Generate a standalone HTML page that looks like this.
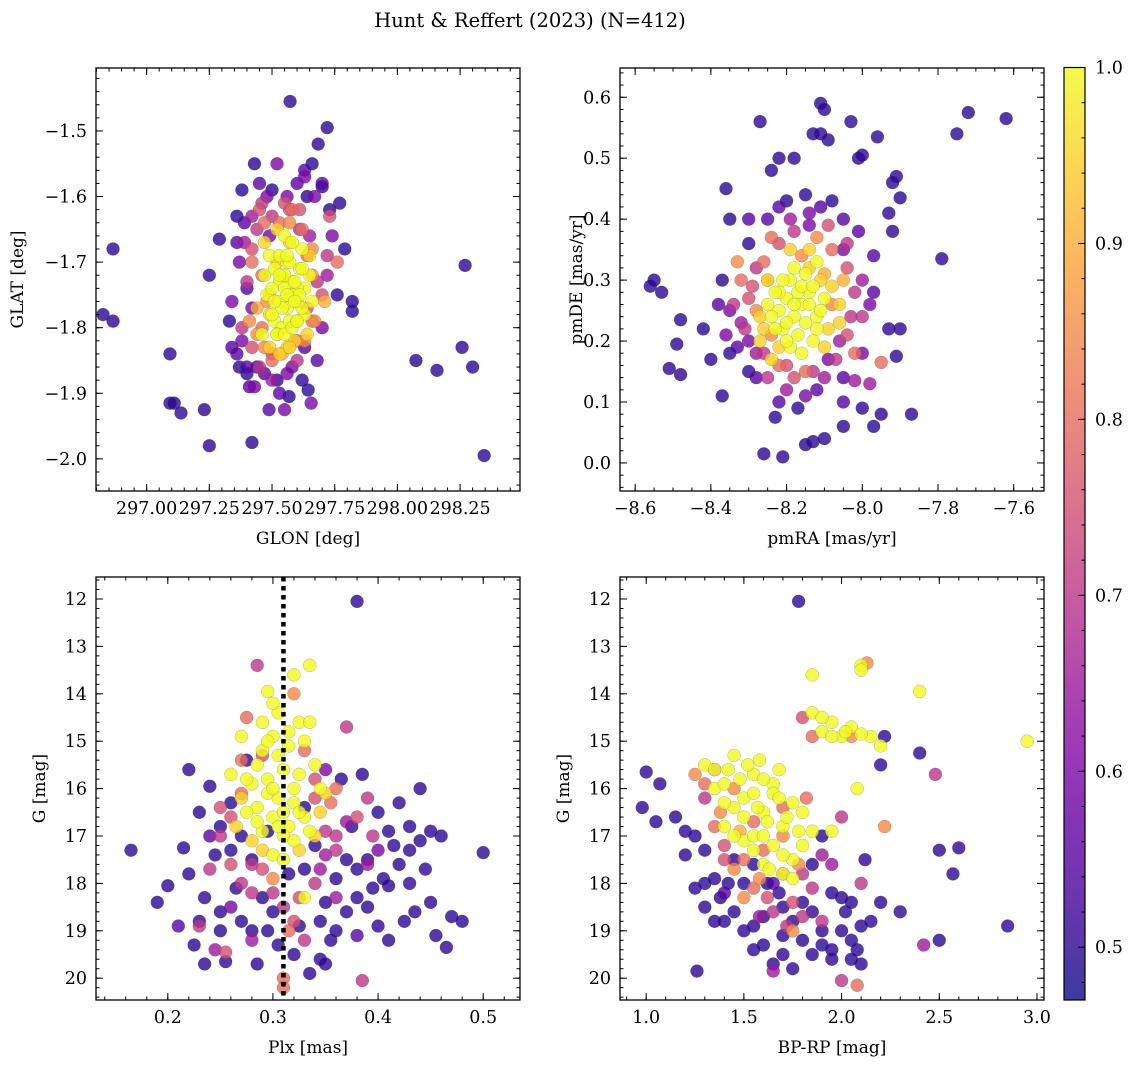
<!DOCTYPE html>
<html><head><meta charset="utf-8">
<style>
html,body{margin:0;padding:0;background:#fff;}
svg{display:block;font-family:"DejaVu Serif","Liberation Serif",serif;}
</style></head>
<body>
<svg id="fig" width="1136" height="1067" viewBox="0 0 1136 1067" xmlns="http://www.w3.org/2000/svg">
<defs>
<linearGradient id="plasma" x1="0" y1="1" x2="0" y2="0">
<stop offset="0" stop-color="#0d0887"/><stop offset="0.1" stop-color="#41049d"/><stop offset="0.2" stop-color="#6a00a8"/><stop offset="0.3" stop-color="#8f0da4"/><stop offset="0.4" stop-color="#b12a90"/><stop offset="0.5" stop-color="#cc4778"/><stop offset="0.6" stop-color="#e16462"/><stop offset="0.7" stop-color="#f2844b"/><stop offset="0.8" stop-color="#fca636"/><stop offset="0.9" stop-color="#fcce25"/><stop offset="1" stop-color="#f0f921"/>
</linearGradient>
</defs>
<text x="530" y="27" font-size="19.5" text-anchor="middle">Hunt &amp; Reffert (2023) (N=412)</text>
</svg>
<script>
// ---- data (x, y, membership probability) ----
const p1Glon=[296.826,296.866,296.866,297.093,297.093,297.11,297.137,297.23,297.25,298.074,298.158,298.258,298.27,298.30,298.346,297.572,297.72,297.684,297.42,297.488,297.55,297.568,297.644,297.656,297.82,297.82,297.76,297.79,297.77,297.70,297.25,297.29,297.43,297.38,297.36,297.64,297.33,297.34,297.36,297.40,297.44,297.38,297.45,297.50,297.53,297.57,297.60,297.63,297.66,297.70,297.73,297.74,297.76,297.72,297.70,297.67,297.63,297.58,297.52,297.47,297.43,297.40,297.42,297.40,297.37,297.39,297.42,297.46,297.48,297.46,297.47,297.50,297.54,297.60,297.66,297.68,297.66,297.62,297.49,297.50,297.56,297.50,297.71,297.73,
297.52,297.54,297.56,297.58,297.61,297.63,297.60,297.56,297.53,297.51,297.54,297.57,297.60,297.63,297.65,297.62,297.57,297.53,297.49,297.59,297.56,297.64,297.66,297.49,297.60,297.58,297.62,297.55,297.65,297.52];
const p1Glat=[-1.78,-1.68,-1.79,-1.84,-1.915,-1.915,-1.93,-1.925,-1.98,-1.85,-1.865,-1.83,-1.705,-1.86,-1.995,-1.455,-1.495,-1.52,-1.975,-1.925,-1.925,-1.905,-1.895,-1.915,-1.76,-1.775,-1.75,-1.68,-1.61,-1.585,-1.72,-1.665,-1.55,-1.59,-1.63,-1.6,-1.79,-1.83,-1.84,-1.87,-1.86,-1.80,-1.62,-1.63,-1.64,-1.62,-1.58,-1.57,-1.55,-1.58,-1.62,-1.66,-1.70,-1.72,-1.75,-1.79,-1.83,-1.86,-1.88,-1.87,-1.89,-1.86,-1.77,-1.74,-1.70,-1.67,-1.68,-1.72,-1.76,-1.80,-1.83,-1.85,-1.84,-1.82,-1.79,-1.73,-1.68,-1.65,-1.66,-1.59,-1.60,-1.84,-1.76,-1.63,
-1.70,-1.72,-1.70,-1.73,-1.71,-1.74,-1.76,-1.77,-1.76,-1.79,-1.80,-1.79,-1.79,-1.78,-1.72,-1.68,-1.67,-1.73,-1.75,-1.82,-1.83,-1.81,-1.76,-1.78,-1.74,-1.75,-1.77,-1.74,-1.69,-1.81];
const p1Prob=[.5,.5,.5,.5,.5,.5,.5,.5,.5,.5,.5,.5,.5,.5,.5,.5,.5,.5,.5,.55,.6,.5,.5,.6,.5,.5,.5,.5,.5,.5,.5,.5,.5,.5,.5,.5,.5,.55,.55,.5,.5,.7,.75,.7,.8,.75,.55,.6,.5,.55,.5,.6,.8,.65,.75,.85,.55,.6,.5,.55,.6,.55,.6,.55,.6,.65,.75,.8,.85,.8,.85,.8,.9,.75,.8,.7,.85,.8,.6,.5,.6,.75,.9,.75,
.95,1,1,1,1,1,1,1,1,1,1,1,1,1,1,1,.95,1,.95,.95,.95,.95,1,.95,1,1,1,1,.95,1];
const p1GlonB=[297.47,297.49,297.51,297.53,297.55,297.57,297.59,297.61,297.48,297.50,297.52,297.55,297.58,297.60,297.46,297.49,297.53,297.57,297.47,297.52,297.55,297.58,297.62,297.54,297.51,297.56,297.59,297.50,297.53,297.56,
297.42,297.44,297.46,297.55,297.58,297.61,297.64,297.66,297.64,297.63,297.60,297.56,297.50,297.45,297.42,297.41,297.40,297.42,297.44,297.44,297.39,297.36,297.34,297.38,297.37,297.41,297.53,297.62,297.68,297.70,297.72,297.67,297.63,297.52,297.48,297.45,297.57,297.47,297.61,297.65];
const p1GlatB=[-1.72,-1.69,-1.71,-1.69,-1.72,-1.70,-1.73,-1.75,-1.75,-1.78,-1.81,-1.81,-1.80,-1.79,-1.81,-1.83,-1.84,-1.83,-1.67,-1.65,-1.66,-1.67,-1.71,-1.77,-1.76,-1.75,-1.76,-1.74,-1.72,-1.69,
-1.63,-1.65,-1.61,-1.61,-1.62,-1.65,-1.69,-1.72,-1.77,-1.82,-1.85,-1.87,-1.88,-1.86,-1.83,-1.79,-1.73,-1.70,-1.77,-1.81,-1.64,-1.67,-1.76,-1.82,-1.86,-1.89,-1.90,-1.88,-1.85,-1.80,-1.69,-1.60,-1.56,-1.55,-1.60,-1.58,-1.64,-1.64,-1.62,-1.66];
const p1ProbB=[1,1,1,1,1,1,1,1,1,1,1,1,1,1,1,.95,.95,.95,.95,.95,1,1,1,1,1,1,1,1,1,1,
.65,.7,.7,.75,.8,.7,.8,.85,.75,.85,.7,.6,.65,.7,.75,.85,.7,.8,.9,.85,.55,.55,.6,.6,.5,.55,.55,.5,.55,.6,.7,.6,.55,.6,.6,.55,.85,.8,.75,.65];

const p2Pmra=[-8.56,-8.55,-8.53,-8.48,-8.49,-8.51,-8.48,-8.42,-8.40,-8.37,-8.36,-8.35,-8.27,-8.24,-8.22,-8.18,-8.13,-8.11,-8.10,-8.11,-8.09,-8.03,-8.01,-8.00,-7.96,-7.92,-7.91,-7.90,-7.93,-7.92,-7.72,-7.75,-7.62,-7.79,-7.87,-7.95,-7.97,-8.05,-8.10,-8.13,-8.15,-8.21,-8.23,-8.26,-8.17,-8.00,-7.93,-7.90,-7.91,-8.30,-8.37,-8.35,-8.30,-8.05,-8.02,-7.98,-7.95,-7.97,-8.25,-8.05,-8.08,-8.15,-8.20,
-8.30,-8.32,-8.34,-8.29,-8.26,-8.22,-8.18,-8.12,-8.08,-8.04,-8.02,-8.03,-8.06,-8.09,-8.13,-8.18,-8.22,-8.26,-8.20,-8.12,-8.14,-8.10,-8.28,-8.24,-8.08,-8.05,-7.98,-8.33,-8.02,-8.16,-8.25,
-8.22,-8.20,-8.18,-8.16,-8.14,-8.12,-8.10,-8.19,-8.15,-8.21,-8.17,-8.13,-8.24,-8.11,-8.14,-8.19,-8.22,-8.09,-8.17,-8.20,-8.26,-8.12,-8.06];
const p2Pmde=[0.29,0.30,0.28,0.235,0.195,0.155,0.145,0.22,0.17,0.11,0.45,0.40,0.56,0.48,0.50,0.50,0.54,0.59,0.58,0.54,0.53,0.56,0.50,0.505,0.535,0.46,0.47,0.435,0.41,0.38,0.575,0.54,0.565,0.335,0.08,0.08,0.06,0.06,0.04,0.035,0.03,0.01,0.075,0.015,0.09,0.09,0.22,0.22,0.175,0.36,0.30,0.18,0.15,0.10,0.135,0.13,0.165,0.34,0.40,0.40,0.43,0.44,0.43,
0.20,0.23,0.26,0.29,0.33,0.36,0.38,0.37,0.35,0.32,0.28,0.24,0.20,0.17,0.15,0.14,0.16,0.18,0.12,0.12,0.41,0.31,0.25,0.21,0.26,0.35,0.26,0.33,0.18,0.34,0.30,
0.25,0.27,0.24,0.26,0.28,0.24,0.27,0.30,0.31,0.22,0.21,0.20,0.24,0.30,0.32,0.19,0.28,0.22,0.28,0.23,0.22,0.33,0.23];
const p2Prob=[.5,.5,.5,.5,.5,.5,.5,.5,.5,.5,.5,.5,.5,.5,.5,.5,.5,.5,.5,.5,.5,.5,.5,.5,.5,.5,.5,.5,.5,.5,.5,.5,.5,.5,.5,.5,.5,.5,.5,.5,.5,.5,.5,.5,.5,.5,.5,.5,.5,.5,.5,.5,.5,.55,.65,.65,.8,.55,.55,.55,.5,.5,.5,
.6,.65,.7,.75,.8,.75,.7,.85,.8,.75,.7,.7,.65,.6,.7,.75,.8,.7,.65,.55,.6,.9,.85,.85,.85,.6,.6,.85,.8,.85,.9,
1,1,1,1,1,1,1,1,1,1,1,1,1,.95,.95,1,1,.95,1,1,.95,1,.95];
const p2PmraB=[-8.25,-8.23,-8.21,-8.18,-8.16,-8.14,-8.12,-8.15,-8.18,-8.20,-8.23,-8.27,-8.11,-8.08,-8.13,-8.16,-8.22,-8.25,-8.19,-8.14,-8.10,-8.27,-8.24,-8.06,-8.05,
-8.30,-8.31,-8.28,-8.25,-8.20,-8.15,-8.10,-8.07,-8.04,-8.00,-8.00,-8.04,-8.09,-8.14,-8.19,-8.24,-8.28,-8.32,-8.35,-8.33,-8.28,-8.22,-8.15,-8.05,-8.00,-7.97,-8.01,-8.11,-8.22,-8.30,-8.38,-8.36];
const p2PmdeB=[0.26,0.28,0.30,0.32,0.29,0.26,0.22,0.23,0.26,0.20,0.22,0.24,0.25,0.29,0.29,0.18,0.19,0.30,0.35,0.35,0.19,0.20,0.17,0.26,0.30,
0.27,0.22,0.18,0.14,0.16,0.15,0.14,0.17,0.21,0.24,0.30,0.36,0.39,0.39,0.40,0.37,0.32,0.30,0.25,0.19,0.14,0.10,0.11,0.14,0.18,0.28,0.38,0.42,0.42,0.40,0.26,0.21];
const p2ProbB=[1,1,1,1,1,1,1,1,1,1,1,.95,1,.95,1,1,.95,.95,.95,.95,.95,.95,.95,.95,.9,
.75,.7,.65,.7,.75,.8,.65,.7,.75,.7,.65,.7,.75,.6,.65,.8,.7,.8,.6,.55,.55,.55,.6,.55,.6,.55,.55,.55,.55,.55,.55,.6];

const p3Plx=[0.165,0.19,0.20,0.215,0.22,0.225,0.23,0.235,0.24,0.245,0.25,0.255,0.26,0.265,0.27,0.275,0.28,0.285,0.29,0.295,0.30,0.305,0.315,0.32,0.325,0.33,0.335,0.34,0.345,0.35,0.355,0.36,0.365,0.37,0.375,0.38,0.385,0.39,0.395,0.40,0.405,0.41,0.415,0.42,0.425,0.43,0.435,0.44,0.445,0.45,0.455,0.465,0.47,0.48,0.50,0.46,0.43,0.41,0.24,0.26,0.38,0.35,
0.23,0.245,0.255,0.25,0.26,0.27,0.275,0.28,0.285,0.29,0.31,0.315,0.32,0.33,0.34,0.35,0.36,0.37,0.38,0.39,0.385,0.345,0.325,0.30,0.27,0.36,0.31,0.395,
0.26,0.27,0.28,0.285,0.29,0.295,0.30,0.305,0.31,0.315,0.32,0.325,0.33,0.335,0.34,0.345,0.35,0.29,0.28,0.30,0.31,0.32,0.33,0.295,0.305,0.315,0.275,0.325,0.30,0.29,0.265,0.34];
const p3G=[17.3,18.4,18.05,17.25,15.6,19.3,18.8,19.7,15.95,17.4,18.6,19.65,16.3,18.1,17.0,15.4,19.0,19.7,18.3,16.9,18.6,19.3,17.8,19.5,18.9,16.4,19.9,17.2,19.6,18.4,19.2,17.9,15.8,18.6,16.8,12.05,15.7,17.5,18.1,18.9,17.9,19.2,17.2,16.3,18.8,17.3,18.6,16.0,17.7,16.9,19.1,19.35,18.7,18.8,17.35,17.0,18.0,18.05,17.0,18.5,19.1,15.6,
18.9,19.4,19.45,17.0,16.6,16.1,14.5,17.6,13.4,15.3,20.0,19.0,14.0,15.2,16.2,16.9,17.3,14.7,16.6,16.2,20.05,17.7,18.3,17.9,18.0,16.0,20.2,17.0,
15.7,14.9,15.9,16.4,14.6,13.95,14.9,16.2,15.6,16.8,16.0,14.6,16.6,13.4,15.5,16.5,16.1,16.9,17.1,16.6,17.0,13.6,18.3,15.8,14.4,15.1,16.5,17.3,17.4,15.2,16.8,17.0];
const p3Prob=[.5,.5,.5,.5,.5,.5,.5,.5,.5,.5,.5,.5,.5,.5,.5,.5,.5,.5,.5,.5,.5,.5,.5,.5,.5,.5,.5,.5,.5,.5,.5,.5,.5,.5,.5,.5,.5,.5,.5,.5,.5,.5,.5,.5,.5,.5,.5,.5,.5,.5,.5,.5,.5,.5,.5,.5,.5,.5,.55,.6,.55,.6,
.7,.65,.75,.7,.75,.8,.8,.7,.7,.75,.8,.8,.85,.8,.75,.7,.7,.7,.75,.7,.7,.65,.75,.85,.7,.8,.8,.7,
1,1,1,1,1,1,1,1,1,1,1,1,1,1,1,.95,.95,1,.95,1,1,1,1,1,1,1,1,.95,1,1,.95,.95];
const p3PlxB=[0.285,0.295,0.305,0.31,0.32,0.325,0.33,0.335,0.30,0.315,0.295,0.285,0.30,0.32,0.345,0.275,0.27,0.31,0.29,0.335,0.305,0.325,
0.26,0.28,0.29,0.30,0.31,0.32,0.34,0.35,0.36,0.37,0.355,0.25,0.24,0.28,0.33,0.39,0.40,0.27,0.34,0.36,
0.22,0.23,0.235,0.25,0.26,0.27,0.28,0.295,0.33,0.345,0.36,0.37,0.38,0.39,0.40,0.42,0.44,0.45,0.38,0.35,0.25,0.21,0.43,0.41];
const p3GB=[15.5,16.1,15.3,16.5,16.3,15.7,15.0,16.9,14.2,14.8,15.0,16.7,16.0,17.1,16.0,15.8,16.2,17.5,17.3,14.6,16.8,16.5,
17.6,18.2,17.7,18.2,18.5,18.8,18.0,17.4,17.0,16.7,16.3,16.4,17.7,19.2,19.2,17.6,17.3,15.4,15.8,18.3,
17.8,16.5,18.3,16.8,17.3,18.8,17.5,19.0,17.7,18.8,19.0,17.5,17.7,18.5,16.5,17.6,17.1,18.4,18.3,19.7,19.0,18.9,16.8,16.9];
const p3ProbB=[1,1,1,1,1,1,1,1,1,1,1,1,1,1,1,1,.95,1,.95,1,1,1,
.75,.7,.75,.7,.7,.75,.7,.65,.7,.65,.8,.75,.7,.65,.7,.65,.6,.8,.75,.65,
.5,.5,.5,.5,.5,.5,.5,.5,.5,.5,.5,.5,.5,.5,.5,.5,.5,.5,.5,.5,.5,.55,.5,.5];
const plxRef=0.31;

const p4Bprp=[0.98,1.0,1.05,1.07,1.15,1.2,1.25,1.26,1.3,1.35,1.38,1.4,1.45,1.5,1.55,1.6,1.65,1.68,1.7,1.75,1.78,1.8,1.85,1.9,1.95,2.0,2.02,2.05,2.08,2.1,2.12,2.15,2.2,2.22,2.3,2.4,2.5,2.5,2.57,2.6,2.85,1.95,1.85,1.55,1.42,1.62,1.9,2.05,1.75,1.3,
1.8,2.42,2.48,1.3,1.35,1.4,1.5,1.6,1.7,1.75,1.8,1.95,2.0,2.1,2.22,1.65,2.08,1.55,1.45,1.85,2.13,2.05,1.58,1.9,2.0,1.7,
1.3,1.35,1.4,1.45,1.5,1.55,1.6,1.65,1.7,1.75,1.5,1.6,1.8,1.7,1.4,1.85,1.9,1.95,2.0,2.05,2.1,2.1,2.15,2.2,2.4,2.95,2.08,1.95,1.85,1.55,1.75,1.65,1.45];
const p4G=[16.4,15.65,16.7,15.9,16.6,17.4,18.1,19.85,18.5,17.9,18.3,18.8,17.5,19.0,19.4,18.7,19.7,18.2,19.1,19.8,12.05,18.4,19.5,19.3,19.6,19.0,18.6,19.2,19.4,18.9,17.5,18.8,15.5,14.9,18.6,15.25,19.2,17.3,17.8,17.25,18.9,18.2,17.6,17.6,18.0,18.0,17.0,18.4,18.8,17.3,
14.5,19.3,15.7,16.2,15.6,17.2,18.3,17.3,17.8,19.0,18.7,17.6,16.6,18.0,16.8,19.85,20.15,16.7,16.0,14.9,13.35,14.9,17.9,18.8,20.05,16.4,
15.5,16.0,15.9,15.3,16.2,15.7,16.5,15.9,16.8,16.3,17.1,17.6,17.2,17.8,16.8,13.6,14.8,14.6,14.9,14.7,13.4,13.5,14.9,15.1,13.95,15.0,16.0,16.9,14.4,17.3,17.5,16.1,16.4];
const p4Prob=[.5,.5,.5,.5,.5,.5,.5,.5,.5,.5,.5,.5,.5,.5,.5,.5,.5,.5,.5,.5,.5,.5,.5,.5,.5,.5,.5,.5,.5,.5,.5,.5,.5,.5,.5,.5,.5,.5,.5,.5,.5,.5,.5,.5,.5,.5,.5,.5,.5,.5,
.75,.65,.7,.7,.8,.75,.85,.8,.8,.85,.7,.65,.7,.7,.85,.65,.8,.8,.85,.8,.85,.85,.85,.7,.7,.8,
1,1,1,1,1,1,1,1,1,1,1,1,1,1,1,1,1,1,1,1,1,1,1,1,1,1,1,1,1,1,1,1,1];
const p4BprpB=[1.35,1.42,1.48,1.55,1.6,1.62,1.68,1.72,1.78,1.5,1.45,1.55,1.65,1.7,1.75,1.6,1.4,1.52,1.58,1.68,1.8,1.85,1.95,2.02,2.1,1.9,1.63,1.57,
1.3,1.35,1.4,1.45,1.5,1.55,1.62,1.7,1.75,1.8,1.85,1.38,1.48,1.65,1.72,1.58,1.9,1.82,1.78,1.25,
1.2,1.25,1.3,1.35,1.45,1.5,1.55,1.6,1.7,1.8,1.85,1.9,2.0,2.05,1.95,1.7,1.65,1.4,2.1,2.2];
const p4GB=[15.6,15.6,15.8,16.1,15.8,16.7,16.2,16.6,16.9,16.6,17.0,17.0,17.2,17.4,17.9,17.0,16.3,15.5,15.4,15.6,16.5,16.9,14.9,14.8,14.85,14.5,17.7,16.4,
15.9,16.8,17.5,17.7,17.5,18.1,18.3,17.0,18.4,17.8,18.1,16.5,16.9,18.6,18.9,18.7,17.4,16.2,17.6,15.7,
16.9,17.0,18.0,18.8,18.6,18.0,18.9,19.3,18.5,19.2,18.6,19.0,18.3,19.6,19.4,19.5,18.0,18.2,19.7,18.4];
const p4ProbB=[1,1,1,1,1,1,1,1,1,1,1,1,1,1,1,1,1,1,1,1,1,1,1,1,1,1,1,1,
.8,.8,.75,.85,.8,.8,.75,.85,.75,.7,.7,.85,.9,.7,.7,.65,.65,.8,.85,.85,
.5,.5,.5,.5,.5,.5,.5,.5,.5,.5,.5,.5,.5,.5,.5,.5,.55,.55,.5,.5];

const cbTicks=[0.5,0.6,0.7,0.8,0.9,1.0];

// ---- rendering ----
const NS="http://www.w3.org/2000/svg";
const svg=document.getElementById('fig');
function mk(tag,attrs,parent){const e=document.createElementNS(NS,tag);for(const k in attrs)e.setAttribute(k,attrs[k]);(parent||svg).appendChild(e);return e;}
const stops=[[0,[13,8,135]],[.1,[65,4,157]],[.2,[106,0,168]],[.3,[143,13,164]],[.4,[177,42,144]],[.5,[204,71,120]],[.6,[225,100,98]],[.7,[242,132,75]],[.8,[252,166,54]],[.9,[252,206,37]],[1,[240,249,33]]];
const CMIN=0.47,CMAX=1.0;
function plasma(v){let t=(v-CMIN)/(CMAX-CMIN);t=Math.max(0,Math.min(1,t));for(let i=1;i<stops.length;i++){if(t<=stops[i][0]){const a=stops[i-1],b=stops[i];const f=(t-a[0])/(b[0]-a[0]);const c=a[1].map((x,j)=>Math.round(x+(b[1][j]-x)*f));return `rgb(${c[0]},${c[1]},${c[2]})`;}}return 'rgb(240,249,33)';}

function panel(o){
  const g=mk('g',{});
  
  
  const sx=v=>o.x0+(v-o.xmin)/(o.xmax-o.xmin)*(o.x1-o.x0);
  const sy=o.yinv?(v=>o.y0+(v-o.ymin)/(o.ymax-o.ymin)*(o.y1-o.y0)):(v=>o.y1-(v-o.ymin)/(o.ymax-o.ymin)*(o.y1-o.y0));
  const clipId='clip-'+o.name;
  const cp=mk('clipPath',{id:clipId},g);mk('rect',{x:o.x0,y:o.y0,width:o.x1-o.x0,height:o.y1-o.y0},cp);
  const pts=mk('g',{'clip-path':`url(#${clipId})`},g);
  
  
  const idx=o.xs.map((_,i)=>i).sort((a,b)=>o.cs[a]-o.cs[b]);
  idx.forEach(i=>{
    const c=mk('circle',{cx:sx(o.xs[i]),cy:sy(o.ys[i]),r:6.5,fill:plasma(o.cs[i]),'fill-opacity':0.8,stroke:'rgba(60,60,60,0.35)','stroke-width':0.5},pts);
    
    
  });
  if(o.vline!==undefined){
    const l=mk('line',{x1:sx(o.vline),x2:sx(o.vline),y1:o.y0,y2:o.y1,stroke:'#000','stroke-width':4.5,'stroke-dasharray':'4.5 4.5'},g);
    
    
  }
  const tk=mk('g',{stroke:'#000','stroke-width':1},g);
  const eps=1e-9;
  const minorX=[];for(let v=Math.ceil(o.xmin/o.xminor)*o.xminor;v<=o.xmax+eps;v+=o.xminor)minorX.push(v);
  const minorY=[];for(let v=Math.ceil(o.ymin/o.yminor)*o.yminor;v<=o.ymax+eps;v+=o.yminor)minorY.push(v);
  minorX.forEach(v=>{const x=sx(v);mk('line',{x1:x,x2:x,y1:o.y1,y2:o.y1-3.5},tk);mk('line',{x1:x,x2:x,y1:o.y0,y2:o.y0+3.5},tk);});
  minorY.forEach(v=>{const y=sy(v);mk('line',{x1:o.x0,x2:o.x0+3.5,y1:y,y2:y},tk);mk('line',{x1:o.x1,x2:o.x1-3.5,y1:y,y2:y},tk);});
  o.xticks.forEach((v,i)=>{const x=sx(v);mk('line',{x1:x,x2:x,y1:o.y1,y2:o.y1-7},tk);mk('line',{x1:x,x2:x,y1:o.y0,y2:o.y0+7},tk);
    const t=mk('text',{x:x,y:o.y1+23,'font-size':17.5,'text-anchor':'middle'},g);t.textContent=o.xlab[i];
    
    });
  o.yticks.forEach((v,i)=>{const y=sy(v);mk('line',{x1:o.x0,x2:o.x0+7,y1:y,y2:y},tk);mk('line',{x1:o.x1,x2:o.x1-7,y1:y,y2:y},tk);
    const t=mk('text',{x:o.x0-9,y:y+6,'font-size':17.5,'text-anchor':'end'},g);t.textContent=o.ylab[i];
    
    });
  const fr=mk('rect',{x:o.x0,y:o.y0,width:o.x1-o.x0,height:o.y1-o.y0,fill:'none',stroke:'#000','stroke-width':1.3},g);
  
  
  const xt=mk('text',{x:(o.x0+o.x1)/2,y:o.y1+53,'font-size':17,'text-anchor':'middle'},g);xt.textContent=o.xtitle;
  
  
  const yc=(o.y0+o.y1)/2;
  const yt=mk('text',{x:o.ytx,y:yc,'font-size':17,'text-anchor':'middle',transform:`rotate(-90 ${o.ytx} ${yc})`},g);yt.textContent=o.ytitle;
  
  
}
const minus=s=>s.replace('-','\u2212');
panel({name:'glon-glat-panel',x0:96,x1:520,y0:68,y1:491,xmin:296.798,xmax:298.489,ymin:-2.049,ymax:-1.404,xs:p1Glon.concat(p1GlonB),ys:p1Glat.concat(p1GlatB),cs:p1Prob.concat(p1ProbB),
  xticks:[297,297.25,297.5,297.75,298,298.25],xlab:['297.00','297.25','297.50','297.75','298.00','298.25'],xminor:0.05,
  yticks:[-2.0,-1.9,-1.8,-1.7,-1.6,-1.5],ylab:['-2.0','-1.9','-1.8','-1.7','-1.6','-1.5'].map(minus),yminor:0.02,
  xtitle:'GLON [deg]',ytitle:'GLAT [deg]',ytx:23});
panel({name:'pm-panel',x0:620,x1:1044,y0:68,y1:491,xmin:-8.640,xmax:-7.520,ymin:-0.046,ymax:0.648,xs:p2Pmra.concat(p2PmraB),ys:p2Pmde.concat(p2PmdeB),cs:p2Prob.concat(p2ProbB),
  xticks:[-8.6,-8.4,-8.2,-8.0,-7.8,-7.6],xlab:['-8.6','-8.4','-8.2','-8.0','-7.8','-7.6'].map(minus),xminor:0.05,
  yticks:[0,0.1,0.2,0.3,0.4,0.5,0.6],ylab:['0.0','0.1','0.2','0.3','0.4','0.5','0.6'],yminor:0.02,
  xtitle:'pmRA [mas/yr]',ytitle:'pmDE [mas/yr]',ytx:582});
panel({name:'plx-g-panel',x0:96,x1:520,y0:577,y1:1000,xmin:0.1317,xmax:0.535,ymin:11.536,ymax:20.46,yinv:true,xs:p3Plx.concat(p3PlxB),ys:p3G.concat(p3GB),cs:p3Prob.concat(p3ProbB),vline:plxRef,
  xticks:[0.2,0.3,0.4,0.5],xlab:['0.2','0.3','0.4','0.5'],xminor:0.02,
  yticks:[12,13,14,15,16,17,18,19,20],ylab:['12','13','14','15','16','17','18','19','20'],yminor:0.2,
  xtitle:'Plx [mas]',ytitle:'G [mag]',ytx:45});
panel({name:'cmd-panel',x0:620,x1:1044,y0:577,y1:1000,xmin:0.866,xmax:3.036,ymin:11.536,ymax:20.46,yinv:true,xs:p4Bprp.concat(p4BprpB),ys:p4G.concat(p4GB),cs:p4Prob.concat(p4ProbB),
  xticks:[1,1.5,2,2.5,3],xlab:['1.0','1.5','2.0','2.5','3.0'],xminor:0.1,
  yticks:[12,13,14,15,16,17,18,19,20],ylab:['12','13','14','15','16','17','18','19','20'],yminor:0.2,
  xtitle:'BP-RP [mag]',ytitle:'G [mag]',ytx:569});

(function(){
  const g=mk('g',{});
  
  
  const x0=1064,x1=1085,y0=67.5,y1=1000;
  const sy=v=>y1-(v-CMIN)/(CMAX-CMIN)*(y1-y0);
  mk('rect',{x:x0,y:y0,width:x1-x0,height:y1-y0,fill:'url(#plasma)','fill-opacity':0.8},g);
  mk('rect',{x:x0,y:y0,width:x1-x0,height:y1-y0,fill:'none',stroke:'#000','stroke-width':1.2},g);
  for(let v=0.48;v<=1.0001;v+=0.02){mk('line',{x1:x1,x2:x1-3.5,y1:sy(v),y2:sy(v),stroke:'#000'},g);}
  cbTicks.forEach(v=>{const y=sy(v);mk('line',{x1:x1,x2:x1-7,y1:y,y2:y,stroke:'#000'},g);
    const t=mk('text',{x:1095,y:y+6,'font-size':17.5},g);t.textContent=v.toFixed(1);
    
    });
})();
</script>
</body></html>
